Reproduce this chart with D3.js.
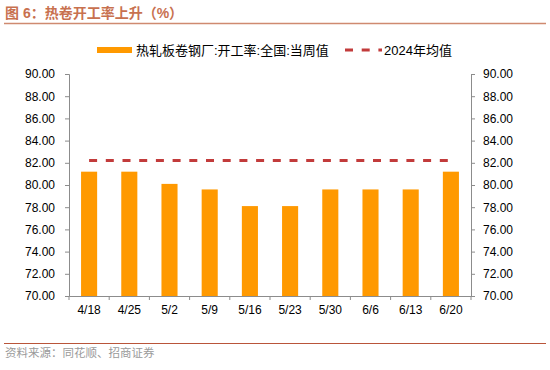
<!DOCTYPE html>
<html>
<head>
<meta charset="utf-8">
<script src="https://cdn.jsdelivr.net/npm/d3@7"></script>
<style>
  body { margin: 0; background: #fff; }
  text { font-family: "Liberation Sans", Arial, "Noto Sans CJK SC", sans-serif; }
  .cjk { font-family: "Liberation Sans", "Noto Sans CJK SC", sans-serif; }
</style>
</head>
<body>
<div id="chart"></div>
<script>
// chart data
var categories = ["4/18", "4/25", "5/2", "5/9", "5/16", "5/23", "5/30", "6/6", "6/13", "6/20"];
var weeklyRate = [81.2, 81.2, 80.1, 79.6, 78.1, 78.1, 79.6, 79.6, 79.6, 81.2];
var avg2024 = [82.2, 82.2, 82.2, 82.2, 82.2, 82.2, 82.2, 82.2, 82.2, 82.2];
var yTicks = [70, 72, 74, 76, 78, 80, 82, 84, 86, 88, 90];
var seriesNames = ["热轧板卷钢厂:开工率:全国:当周值", "2024年均值"];

var W = 550, H = 370;
var margin = {top: 74, right: 79, bottom: 74, left: 69},
    width = W - margin.left - margin.right,
    height = H - margin.top - margin.bottom;

var root = d3.select("#chart")
  .append("svg")
    .attr("width", W)
    .attr("height", H);

// title + rules
root.append("text")
  .attr("class", "cjk")
  .attr("x", 5).attr("y", 18)
  .attr("font-size", 14).attr("font-weight", "bold")
  .attr("fill", "#c8714f")
  .text("图 6：热卷开工率上升（%）");
root.append("line")
  .attr("x1", 4).attr("x2", 546).attr("y1", 23.5).attr("y2", 23.5)
  .attr("stroke", "#cf8a70").attr("stroke-width", 1.5);
root.append("line")
  .attr("x1", 4).attr("x2", 546).attr("y1", 343.5).attr("y2", 343.5)
  .attr("stroke", "#b9553a").attr("stroke-width", 1.2);
root.append("text")
  .attr("class", "cjk")
  .attr("x", 5).attr("y", 357)
  .attr("font-size", 11.5)
  .attr("fill", "#9a9a9a")
  .text("资料来源：同花顺、招商证券");

var svg = root.append("g")
  .attr("transform", "translate(" + margin.left + "," + margin.top + ")");

// scales
var x = d3.scaleBand()
  .domain(categories)
  .range([0, width])
  .paddingInner(0.6)
  .paddingOuter(0.3);
var xb = d3.scaleBand().domain(categories).range([0, width]);

var y = d3.scaleLinear()
  .domain([70, 90])
  .range([height, 0]);

// bars
svg.selectAll("rect.bar")
  .data(weeklyRate)
  .enter()
  .append("rect")
    .attr("class", "bar")
    .attr("x", function(d, i) { return x(categories[i]); })
    .attr("y", function(d) { return y(d); })
    .attr("width", x.bandwidth())
    .attr("height", function(d) { return height - y(d); })
    .attr("fill", "#ff9900");

// average dashed line
var line = d3.line()
  .x(function(d, i) { return xb(categories[i]) + xb.bandwidth() / 2; })
  .y(function(d) { return y(d); });
svg.append("path")
  .datum(avg2024)
  .attr("d", line)
  .attr("fill", "none")
  .attr("stroke", "#c23b3b")
  .attr("stroke-width", 3)
  .attr("stroke-dasharray", "8,8.7");

// axes
var fmt = d3.format(".2f");
var yLeft = svg.append("g")
  .call(d3.axisLeft(y).tickValues(yTicks).tickFormat(fmt).tickSizeOuter(0).tickSize(4).tickPadding(10));
var yRight = svg.append("g")
  .attr("transform", "translate(" + width + ",0)")
  .call(d3.axisRight(y).tickValues(yTicks).tickFormat(fmt).tickSizeOuter(0).tickSize(4).tickPadding(8));
var xAxis = svg.append("g")
  .attr("transform", "translate(0," + height + ")")
  .call(d3.axisBottom(xb).tickSize(0).tickSizeOuter(0).tickPadding(9));

// category boundary ticks on x axis
svg.append("g")
  .selectAll("line")
  .data(categories.concat([null]))
  .enter()
  .append("line")
    .attr("x1", function(d, i) { return i * xb.step(); })
    .attr("x2", function(d, i) { return i * xb.step(); })
    .attr("y1", height).attr("y2", height + 4)
    .attr("stroke", "#8c8c8c");

[yLeft, yRight, xAxis].forEach(function(g) {
  g.selectAll("path, line").attr("stroke", "#8c8c8c");
  g.selectAll("text")
    .attr("font-size", 12)
    .attr("fill", "#000")
    .attr("font-family", "Liberation Sans, Arial, sans-serif");
});

// legend
var lg = root.append("g");
lg.append("rect")
  .attr("x", 97).attr("y", 47).attr("width", 35).attr("height", 6)
  .attr("fill", "#ff9900");
lg.append("text")
  .attr("class", "cjk")
  .attr("x", 136).attr("y", 54.5)
  .attr("font-size", 13)
  .attr("fill", "#000")
  .text(seriesNames[0]);
lg.append("line")
  .attr("x1", 345).attr("x2", 382).attr("y1", 50).attr("y2", 50)
  .attr("stroke", "#c23b3b").attr("stroke-width", 3)
  .attr("stroke-dasharray", "8,8.7");
lg.append("text")
  .attr("class", "cjk")
  .attr("x", 384).attr("y", 54.5)
  .attr("font-size", 13)
  .attr("fill", "#000")
  .text(seriesNames[1]);
</script>
</body>
</html>
